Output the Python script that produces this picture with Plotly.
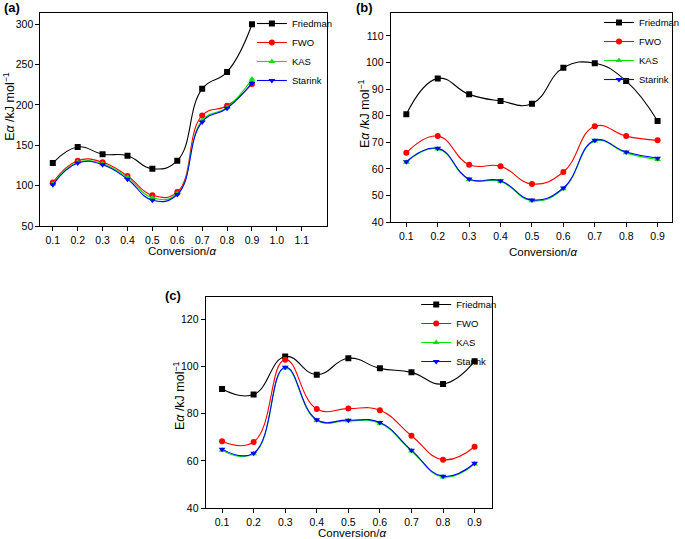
import plotly.graph_objects as go

conversion = [0.1, 0.2, 0.3, 0.4, 0.5, 0.6, 0.7, 0.8, 0.9]
series_names = ["Friedman", "FWO", "KAS", "Starink"]

a_friedman = [128, 148, 139, 137, 121, 131, 220, 241, 300]
a_fwo = [104, 131, 129, 112, 88, 92, 187, 199, 226]
a_kas = [102, 129, 127, 110, 85, 90, 181, 197, 232]
a_starink = [101, 128, 126, 108, 82, 89, 179, 196, 227]

b_friedman = [80.5, 94.0, 88.0, 85.5, 84.5, 98.0, 99.7, 93.0, 78.0]
b_fwo = [66.0, 72.3, 61.5, 61.0, 54.3, 58.8, 76.0, 72.3, 70.7]
b_kas = [62.5, 67.5, 56.0, 55.2, 48.0, 52.5, 70.5, 66.0, 63.5]
b_starink = [62.7, 67.7, 56.2, 55.5, 48.3, 52.8, 70.7, 66.3, 64.0]

c_friedman = [90.5, 88.2, 104.3, 96.6, 103.6, 99.3, 97.6, 92.7, 102.3]
c_fwo = [68.3, 68.0, 103.0, 82.0, 82.2, 81.5, 70.7, 60.5, 66.0]
c_kas = [64.5, 63.0, 99.5, 77.2, 77.0, 76.0, 64.2, 53.2, 58.7]
c_starink = [65.0, 63.3, 99.8, 77.5, 77.3, 76.3, 64.5, 53.5, 59.0]

a_xticks = [0.1, 0.2, 0.3, 0.4, 0.5, 0.6, 0.7, 0.8, 0.9, 1.0, 1.1]
a_yticks = [50, 100, 150, 200, 250, 300]
b_yticks = [40, 50, 60, 70, 80, 90, 100, 110]
c_yticks = [40, 60, 80, 100, 120]

x_title = "Conversion/<i>α</i>"
y_title = "E<i>α</i> /kJ mol<sup>−1</sup>"
panel_labels = ["(a)", "(b)", "(c)"]

colors = ["#000000", "#ff0000", "#00e600", "#0000ff"]
symbols = ["square", "circle", "triangle-up", "triangle-down"]

W, H = 685, 539
def px_x(a, b):
    return [a / W, b / W]
def px_y(top, bottom):
    return [1 - bottom / H, 1 - top / H]

fig = go.Figure()

panels = [
    ("x", "y", "legend", [a_friedman, a_fwo, a_kas, a_starink]),
    ("x2", "y2", "legend2", [b_friedman, b_fwo, b_kas, b_starink]),
    ("x3", "y3", "legend3", [c_friedman, c_fwo, c_kas, c_starink]),
]
for xa, ya, lg, data in panels:
    for name, vals, col, sym in zip(series_names, data, colors, symbols):
        fig.add_trace(go.Scatter(
            x=conversion, y=vals, name=name, xaxis=xa, yaxis=ya, legend=lg,
            mode="lines+markers", line=dict(color=col, width=1.1, shape="spline", smoothing=1.3),
            marker=dict(color=col, symbol=sym, size=6),
        ))

font_family = "Liberation Sans, Arial, sans-serif"
ax_common = dict(showline=True, linecolor="black", linewidth=1, mirror=True, showgrid=False,
                 zeroline=False, ticks="outside", ticklen=4, tickcolor="black", automargin=False,
                 tickfont=dict(size=10.5, color="black"))

legend_common = dict(font=dict(size=9.5, color="black", family=font_family), bgcolor="rgba(0,0,0,0)",
                     xanchor="left", yanchor="top", itemwidth=30, tracegroupgap=0)

def ann(text, x, y, size, angle=0, xanchor="center", yanchor="middle"):
    return dict(text=text, x=x / W, y=1 - y / H, xref="paper", yref="paper", xanchor=xanchor,
                yanchor=yanchor, showarrow=False, textangle=angle, font=dict(size=size, color="black"))

annotations = [
    ann("<b>" + panel_labels[0] + "</b>", 2, 7, 13, xanchor="left"),
    ann("<b>" + panel_labels[1] + "</b>", 360, 7, 13, xanchor="left"),
    ann("<b>" + panel_labels[2] + "</b>", 166, 295, 13, xanchor="left"),
    ann(x_title, 185, 251, 11.5),
    ann(x_title, 552, 252, 11.5),
    ann(x_title, 358, 533, 11.5),
    ann(y_title, 9, 106, 12.5, angle=-90),
    ann(y_title, 370, 114, 12.5, angle=-90),
    ann(y_title, 182, 396, 12.5, angle=-90),
]

fig.update_layout(
    width=W, height=H, margin=dict(l=0, r=0, t=0, b=0),
    paper_bgcolor="white", plot_bgcolor="white",
    font=dict(family=font_family, color="black"),
    xaxis=dict(domain=px_x(41, 332), range=[0.05, 1.2], tickvals=a_xticks,
               ticktext=[f"{v:.1f}" for v in a_xticks], anchor="y", **ax_common),
    yaxis=dict(domain=px_y(13, 226), range=[50, 314], tickvals=a_yticks, anchor="x", **ax_common),
    xaxis2=dict(domain=px_x(397, 683), range=[0.05, 0.946], tickvals=conversion,
                ticktext=[f"{v:.1f}" for v in conversion], anchor="y2", **ax_common),
    yaxis2=dict(domain=px_y(13, 222), range=[40, 118.6], tickvals=b_yticks, anchor="x2", **ax_common),
    xaxis3=dict(domain=px_x(209, 500), range=[0.048, 0.955], tickvals=conversion,
                ticktext=[f"{v:.1f}" for v in conversion], anchor="y3", **ax_common),
    yaxis3=dict(domain=px_y(297, 508), range=[40, 129.6], tickvals=c_yticks, anchor="x3", **ax_common),
    legend=dict(x=256 / W, y=1 - 9 / H, **legend_common),
    legend2=dict(x=609 / W, y=1 - 8 / H, **legend_common),
    legend3=dict(x=423 / W, y=1 - 290 / H, **legend_common),
    showlegend=True,
    annotations=annotations,
)

fig.write_html("out.html", config={"displayModeBar": False},
               post_script="document.body.style.margin='0';document.body.style.overflow='hidden';")
